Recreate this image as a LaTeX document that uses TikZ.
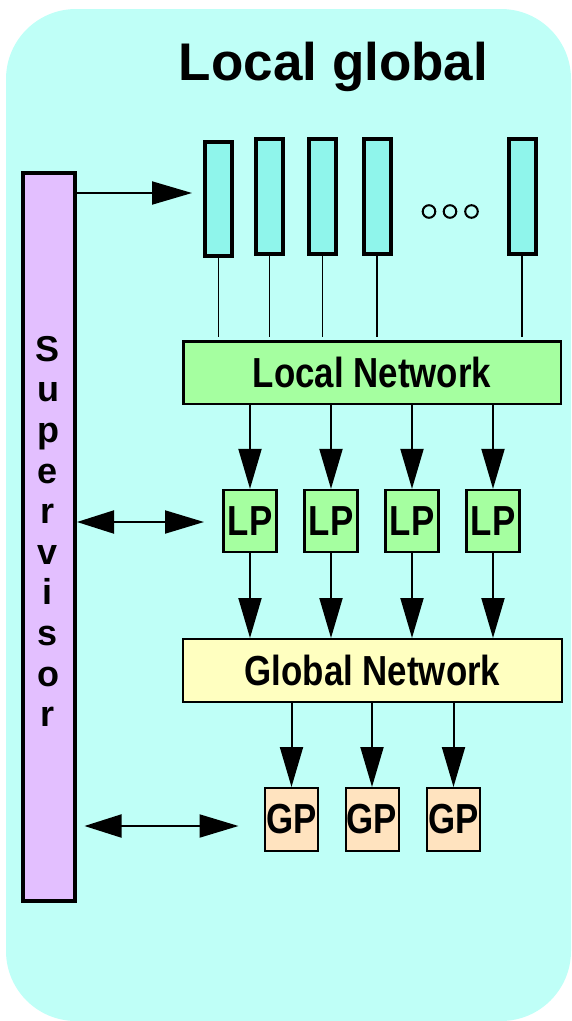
\documentclass[tikz,border=0pt]{standalone}
\usepackage{fontspec}
\setmainfont{Liberation Sans}
\usetikzlibrary{arrows.meta}

\definecolor{panelbg}{RGB}{191,255,247}
\definecolor{cellfill}{RGB}{143,245,235}
\definecolor{supfill}{RGB}{227,191,255}
\definecolor{localfill}{RGB}{165,255,160}
\definecolor{globalfill}{RGB}{255,255,192}
\definecolor{gpfill}{RGB}{255,227,191}

\newcommand{\narrow}[1]{\scalebox{0.83}[1]{#1}}

\tikzset{
  cellbox/.style={draw=black, line width=4pt, fill=cellfill, inner sep=0pt,
    minimum width=27pt, minimum height=115pt},
  netbox/.style={draw=black, inner sep=0pt,
    font=\bfseries\fontsize{42}{46}\selectfont},
  procbox/.style={draw=black, line width=2.3pt, inner sep=0pt,
    minimum width=53pt, minimum height=62pt,
    font=\bfseries\fontsize{42}{46}\selectfont},
  thinline/.style={line width=1.8pt},
  bigarrow/.style={line width=2pt, -{Triangle[length=40pt,width=23pt]}},
  botharrow/.style={line width=2pt,
    {Triangle[length=37pt,width=23pt]}-{Triangle[length=39pt,width=23pt]}},
}

\begin{document}
\begin{tikzpicture}[x=1pt,y=-1pt]
  \useasboundingbox (0,0) rectangle (571,1021);
  % rounded panel
  \fill[panelbg, rounded corners=70pt] (6,9) rectangle (571,1021);

  % title
  \node[anchor=base, font=\bfseries\fontsize{53}{60}\selectfont, inner sep=0pt]
    (title) at (333.5,80) {Local global};

  % supervisor column
  \node[draw=black, line width=4pt, fill=supfill, inner sep=0pt,
        minimum width=52pt, minimum height=728pt] (sup) at (49,537) {};
  \node[font=\bfseries\fontsize{36}{40.6}\selectfont, align=center,
        anchor=north, inner sep=0pt] (suptext) at (48,336)
    {S\\u\\p\\e\\r\\v\\i\\s\\o\\r};

  % input cells
  \node[cellbox, minimum height=114pt] (c1) at (218.5,199) {};
  \node[cellbox] (c2) at (269.5,196.5) {};
  \node[cellbox] (c3) at (322.5,196.5) {};
  \node[cellbox] (c4) at (377,196.5) {};
  \node[cellbox] (c5) at (522,196.5) {};

  % ellipsis
  \foreach \cx in {429,450,471.5}
    \draw[line width=2pt] (\cx,211.5) circle[radius=6.3pt];

  % local network
  \node[netbox, line width=2.5pt, fill=localfill,
        minimum width=377.5pt, minimum height=62.5pt] (ln) at (372,372.5)
    {\narrow{Local Network}};

  \foreach \c in {c1,c2,c3,c4,c5}
    \draw[thinline] (\c.south) -- ([yshift=3pt]\c.south |- ln.north);

  % local processors
  \node[procbox, fill=localfill] (lp1) at (250,521) {\narrow{LP}};
  \node[procbox, fill=localfill] (lp2) at (331,521) {\narrow{LP}};
  \node[procbox, fill=localfill] (lp3) at (412,521) {\narrow{LP}};
  \node[procbox, fill=localfill] (lp4) at (493,521) {\narrow{LP}};

  % global network
  \node[netbox, line width=2pt, fill=globalfill,
        minimum width=379pt, minimum height=63pt] (gn) at (372.5,670.5)
    {\narrow{Global Network}};

  % global processors
  \node[procbox, line width=2pt, fill=gpfill, minimum height=63pt] (gp1) at (291.5,819.5) {\narrow{GP}};
  \node[procbox, line width=2pt, fill=gpfill, minimum height=63pt] (gp2) at (372,819.5) {\narrow{GP}};
  \node[procbox, line width=2pt, fill=gpfill, minimum height=63pt] (gp3) at (453.5,819.5) {\narrow{GP}};

  % flow arrows
  \foreach \p in {lp1,lp2,lp3,lp4} {
    \draw[bigarrow] (ln.south -| \p.north) -- (\p.north);
    \draw[bigarrow] (\p.south) -- (gn.north -| \p.south);
  }
  \foreach \p in {gp1,gp2,gp3}
    \draw[bigarrow] (gn.south -| \p.north) -- (\p.north);

  % supervisor links
  \coordinate (cellin) at (192,193);
  \coordinate (lpin) at (204,522);
  \coordinate (gpin) at (238.5,826);
  \coordinate (gpout) at (84.5,826);
  \draw[bigarrow] (sup.east |- cellin) -- (cellin);
  \draw[botharrow] (sup.east |- lpin) -- (lpin);
  \draw[botharrow] (gpout) -- (gpin);
\end{tikzpicture}
\end{document}
